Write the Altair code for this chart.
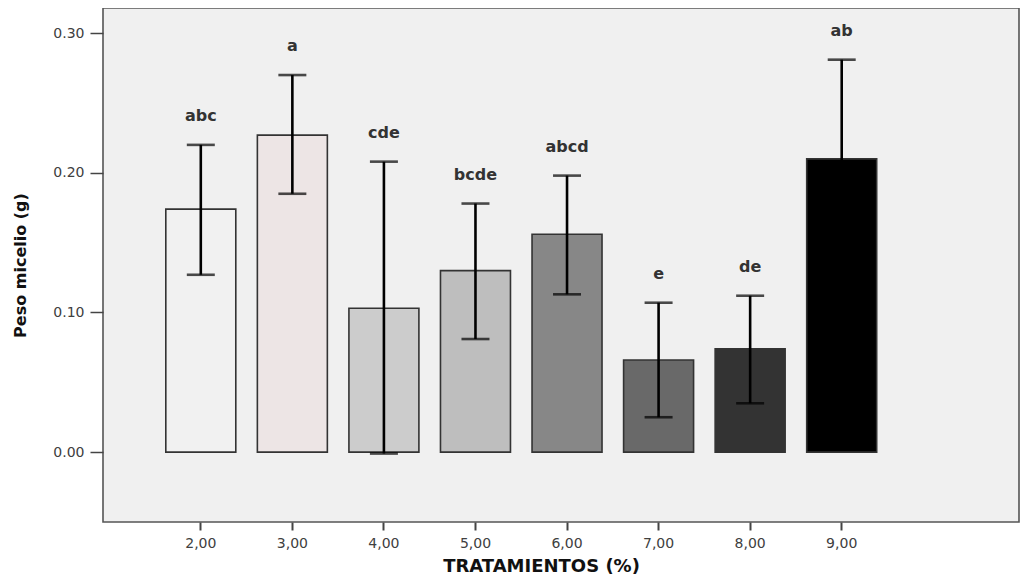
import altair as alt
import pandas as pd

categories = ["2,00", "3,00", "4,00", "5,00", "6,00", "7,00", "8,00", "9,00"]
means = [0.174, 0.227, 0.103, 0.130, 0.156, 0.066, 0.074, 0.210]
upper = [0.220, 0.270, 0.208, 0.178, 0.198, 0.107, 0.112, 0.281]
lower = [0.127, 0.185, -0.001, 0.081, 0.113, 0.025, 0.035, 0.139]
letters = ["abc", "a", "cde", "bcde", "abcd", "e", "de", "ab"]

bar_colors = ["#F1F1F1", "#EDE5E5", "#CCCCCC", "#BEBEBE", "#878787", "#696969", "#333333", "#000000"]

df = pd.DataFrame({
    "trat": categories,
    "mean": means,
    "upper": upper,
    "lower": lower,
    "letter": letters,
})

xscale = alt.Scale(domain=categories, paddingInner=0.2356, paddingOuter=1, align=0.343,
                   range=[0, 894], round=False)
yscale = alt.Scale(domain=[-0.05, 0.318], nice=False, zero=False)

x = alt.X("trat:N", scale=xscale, sort=categories,
          axis=alt.Axis(title="TRATAMIENTOS (%)", labelAngle=0, domain=False, grid=False,
                        tickSize=8, tickWidth=2, tickColor="#444", labelPadding=6,
                        labelFontSize=14, labelColor="#404040", labelFont="DejaVu Sans",
                        titleFontSize=18, titleFont="DejaVu Sans", titleFontWeight="bold",
                        titleColor="#111", titlePadding=7, titleX=438, titleAnchor="middle"))

bars = alt.Chart(df).mark_bar(stroke="#333333", strokeWidth=1.6).encode(
    x=x,
    y=alt.Y("mean:Q", scale=yscale,
            axis=alt.Axis(title="Peso micelio (g)", format=".2f", values=[0.0, 0.1, 0.2, 0.3],
                          domain=False, grid=False, tickSize=13, tickWidth=1.5, tickColor="#444",
                          labelPadding=6, labelFontSize=14, labelColor="#404040",
                          labelFont="DejaVu Sans", titleFontSize=16, titleFont="DejaVu Sans",
                          titleFontWeight="bold", titleColor="#111", titlePadding=24)),
    color=alt.Color("trat:N", scale=alt.Scale(domain=categories, range=bar_colors), legend=None),
)

rules = alt.Chart(df).mark_rule(color="black", strokeWidth=2.6).encode(
    x=alt.X("trat:N", scale=xscale, sort=categories),
    y=alt.Y("lower:Q", scale=yscale),
    y2="upper:Q",
)

cap_top = alt.Chart(df).mark_tick(color="black", thickness=2.6, size=28).encode(
    x=alt.X("trat:N", scale=xscale, sort=categories),
    y=alt.Y("upper:Q", scale=yscale),
)
cap_bot = alt.Chart(df).mark_tick(color="black", thickness=2.6, size=28).encode(
    x=alt.X("trat:N", scale=xscale, sort=categories),
    y=alt.Y("lower:Q", scale=yscale),
)

labels = alt.Chart(df).mark_text(font="DejaVu Sans", fontWeight="bold", fontSize=16,
                                 color="#333", baseline="alphabetic", dy=-24).encode(
    x=alt.X("trat:N", scale=xscale, sort=categories),
    y=alt.Y("upper:Q", scale=yscale),
    text="letter:N",
)

chart = alt.layer(bars, rules, cap_top, cap_bot, labels).properties(
    width=916, height=514,
    autosize=alt.AutoSizeParams(type="none"),
    padding={"left": 95, "top": 0, "right": 2, "bottom": 57},
    background="white",
).configure_view(
    fill="#F0F0F0", stroke="#555555", strokeWidth=1.6
)

chart.save("out.html", embed_options={"renderer": "svg", "actions": False})
